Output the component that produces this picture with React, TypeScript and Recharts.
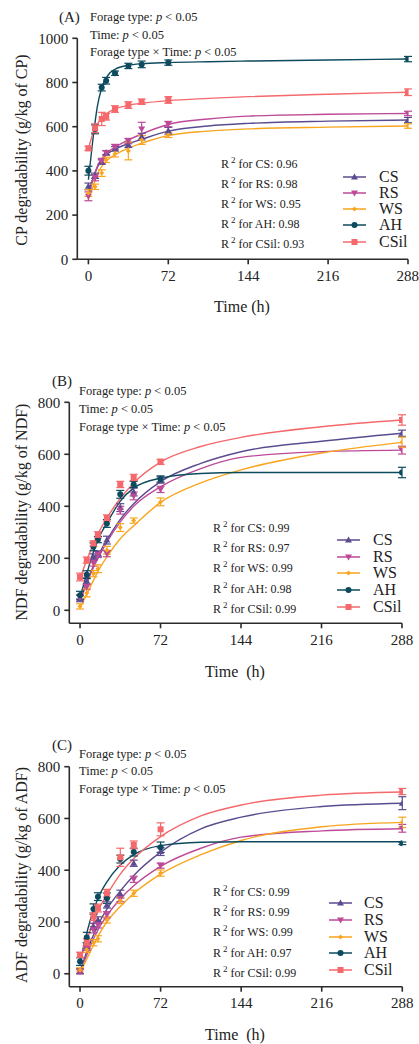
import React from "react";
import { ComposedChart, Line, Scatter, ErrorBar, XAxis, YAxis } from "recharts";

const seriesNames = ["CS", "RS", "WS", "AH", "CSil"];
const seriesColors = ["#5b4b8f", "#bd4a98", "#f9a51f", "#0c4a5d", "#f5686c"];
const seriesShapes = ["up", "down", "dot", "circle", "square"];

const obsTimes = [0, 6, 12, 16, 24, 36, 48, 72, 288];
const fitTimes = [0, 4, 8, 12, 18, 24, 36, 48, 72, 108, 144, 216, 288];
const xTicks = [0, 72, 144, 216, 288];

// (A) CP degradability, measured
const cpCS = [330, 378, 440, 482, 500, 518, 555, 582, 630];
const cpRS = [285, 370, 445, 482, 508, 535, 590, 612, 660];
const cpWS = [300, 328, 390, 450, 478, 490, 540, 563, 603];
const cpAH = [401, 588, 777, 808, 842, 875, 882, 890, 906];
const cpCSil = [502, 593, 635, 645, 680, 698, 713, 721, 756];
const cpCSErr = [15, 12, 10, 10, 10, 12, 15, 15, 12];
const cpRSErr = [20, 15, 12, 10, 12, 12, 30, 12, 10];
const cpWSErr = [15, 12, 15, 12, 15, 40, 20, 12, 10];
const cpAHErr = [20, 20, 15, 15, 10, 12, 15, 12, 12];
const cpCSilErr = [10, 20, 30, 15, 15, 15, 12, 15, 15];
// (A) fitted curves
const cpCSFit = [300, 365, 415, 450, 480, 498, 523, 543, 580, 603, 615, 625, 630];
const cpRSFit = [280, 360, 420, 455, 487, 507, 540, 567, 610, 635, 648, 656, 660];
const cpWSFit = [270, 328, 383, 420, 453, 473, 503, 525, 560, 580, 590, 598, 603];
const cpAHFit = [360, 540, 690, 775, 835, 860, 878, 885, 890, 894, 897, 902, 906];
const cpCSilFit = [500, 568, 612, 640, 665, 680, 697, 706, 718, 728, 736, 747, 756];
const cpR2 = ["0.96", "0.98", "0.95", "0.98", "0.93"];

// (B) NDF degradability
const ndfCS = [45, 113, 205, 218, 270, 395, 455, 501, 681];
const ndfRS = [50, 90, 182, 215, 218, 385, 440, 465, 616];
const ndfWS = [15, 67, 141, 160, 231, 318, 345, 417, 646];
const ndfAH = [58, 137, 244, 272, 334, 446, 484, 505, 530];
const ndfCSil = [128, 193, 257, 290, 355, 484, 511, 571, 732];
const ndfCSErr = [12, 12, 12, 10, 15, 15, 15, 12, 12];
const ndfRSErr = [10, 10, 12, 12, 12, 15, 15, 12, 15];
const ndfWSErr = [10, 15, 12, 15, 15, 15, 10, 15, 20];
const ndfAHErr = [15, 15, 15, 12, 15, 15, 12, 12, 20];
const ndfCSilErr = [15, 12, 10, 12, 12, 12, 12, 10, 20];
const ndfCSFit = [40, 85, 130, 170, 225, 270, 350, 410, 495, 565, 610, 650, 681];
const ndfRSFit = [40, 80, 125, 165, 215, 262, 340, 400, 475, 545, 588, 610, 616];
const ndfWSFit = [10, 45, 80, 115, 165, 205, 275, 325, 415, 490, 540, 605, 646];
const ndfAHFit = [50, 110, 170, 225, 290, 335, 420, 470, 508, 526, 530, 530, 530];
const ndfCSilFit = [120, 170, 215, 255, 310, 355, 430, 490, 570, 630, 665, 706, 732];
const ndfR2 = ["0.99", "0.97", "0.99", "0.98", "0.99"];

// (C) ADF degradability
const adfCS = [10, 108, 183, 208, 266, 308, 427, 472, 659];
const adfRS = [8, 100, 170, 189, 228, 290, 365, 418, 562];
const adfWS = [15, 93, 120, 135, 208, 283, 311, 389, 585];
const adfAH = [47, 140, 250, 298, 292, 443, 470, 489, 504];
const adfCSil = [73, 120, 221, 254, 311, 450, 498, 558, 704];
const adfCSErr = [10, 12, 12, 12, 12, 15, 12, 15, 25];
const adfRSErr = [8, 10, 12, 12, 12, 12, 12, 10, 15];
const adfWSErr = [8, 10, 12, 12, 12, 12, 12, 12, 20];
const adfAHErr = [15, 20, 20, 15, 20, 15, 15, 20, 5];
const adfCSilErr = [10, 15, 15, 15, 15, 35, 15, 25, 12];
const adfCSFit = [10, 60, 110, 150, 205, 250, 320, 380, 470, 560, 605, 646, 659];
const adfRSFit = [5, 50, 95, 135, 185, 225, 290, 340, 415, 485, 528, 552, 560];
const adfWSFit = [5, 40, 75, 110, 160, 200, 260, 310, 385, 460, 515, 568, 585];
const adfAHFit = [40, 120, 190, 245, 310, 355, 420, 460, 495, 508, 510, 510, 510];
const adfCSilFit = [50, 105, 155, 200, 260, 305, 385, 445, 530, 610, 652, 690, 702];
const adfR2 = ["0.99", "0.99", "0.99", "0.97", "0.99"];

const font = "'Liberation Serif', 'Times New Roman', serif";
const axisColor = "#2b2b2b";

const Mark = ({ cx, cy, kind, color }: any) => {
  if (cx == null || cy == null) return null;
  if (kind === "up")
    return <polygon points={`${cx},${cy - 3.5} ${cx - 3.5},${cy + 2.5} ${cx + 3.5},${cy + 2.5}`} fill={color} />;
  if (kind === "down")
    return <polygon points={`${cx},${cy + 3.5} ${cx - 3.5},${cy - 2.5} ${cx + 3.5},${cy - 2.5}`} fill={color} />;
  if (kind === "dot")
    return <polygon points={`${cx},${cy - 2.5} ${cx + 2.5},${cy} ${cx},${cy + 2.5} ${cx - 2.5},${cy}`} fill={color} />;
  if (kind === "circle") return <circle cx={cx} cy={cy} r={3} fill={color} />;
  return <rect x={cx - 3} y={cy - 3} width={6} height={6} fill={color} />;
};

type PanelProps = {
  top: number;
  height: number;
  margin: { top: number; right: number; bottom: number; left: number };
  xDomain: number[];
  yDomain: number[];
  yTicks: number[];
  obs: number[][];
  errs: number[][];
  fits: number[][];
};

const Panel = ({ top, height, margin, xDomain, yDomain, yTicks, obs, errs, fits }: PanelProps) => {
  const tickStyle = { fontFamily: font, fontSize: 15, fill: "#222" };
  return (
    <div style={{ position: "absolute", left: 0, top }}>
      <ComposedChart width={419} height={height} margin={margin}>
        <XAxis
          type="number"
          dataKey="t"
          domain={xDomain}
          ticks={xTicks}
          allowDataOverflow
          height={30}
          tickSize={5}
          tickMargin={6}
          tick={tickStyle}
          axisLine={{ stroke: axisColor, strokeWidth: 1.6 }}
          tickLine={{ stroke: axisColor, strokeWidth: 1.6 }}
        />
        <YAxis
          type="number"
          domain={yDomain}
          ticks={yTicks}
          allowDataOverflow
          width={45}
          tickSize={5}
          tickMargin={4}
          tick={tickStyle}
          axisLine={{ stroke: axisColor, strokeWidth: 1.6 }}
          tickLine={{ stroke: axisColor, strokeWidth: 1.6 }}
        />
        {seriesNames.map((name, i) => (
          <Line
            key={"f" + name}
            data={fitTimes.map((t, j) => ({ t, v: fits[i][j] }))}
            dataKey="v"
            type="monotone"
            stroke={seriesColors[i]}
            strokeWidth={1.4}
            dot={false}
            activeDot={false}
            isAnimationActive={false}
          />
        ))}
        {seriesNames.map((name, i) => (
          <Scatter
            key={"o" + name}
            data={obsTimes.map((t, j) => ({ t, v: obs[i][j], e: errs[i][j] }))}
            dataKey="v"
            fill={seriesColors[i]}
            shape={(p: any) => <Mark cx={p.cx} cy={p.cy} kind={seriesShapes[i]} color={seriesColors[i]} />}
            isAnimationActive={false}
          >
            <ErrorBar dataKey="e" direction="y" width={4} stroke={seriesColors[i]} strokeWidth={1.2} />
          </Scatter>
        ))}
      </ComposedChart>
    </div>
  );
};

const At = ({ x, y, size = 12, children, center = false }: any) => (
  <div
    style={{
      position: "absolute",
      left: x,
      top: y,
      transform: center ? "translate(-50%, -50%)" : "translateY(-50%)",
      fontFamily: font,
      fontSize: size,
      color: "#222",
      whiteSpace: "nowrap",
      lineHeight: 1,
    }}
  >
    {children}
  </div>
);

const PTexts = ({ letter, lx, ly, x, ys }: any) => (
  <>
    <At x={lx} y={ly} size={15}>({letter})</At>
    <At x={x} y={ys[0]} size={12.5}>Forage type: <i>p</i> &lt; 0.05</At>
    <At x={x} y={ys[1]} size={12.5}>Time: <i>p</i> &lt; 0.05</At>
    <At x={x} y={ys[2]} size={12.5}>Forage type × Time: <i>p</i> &lt; 0.05</At>
  </>
);

const R2Texts = ({ x, y0, step, values }: any) => (
  <>
    {seriesNames.map((name, i) => (
      <At key={name} x={x} y={y0 + i * step} size={12}>
        R<sup style={{ fontSize: 9, marginLeft: 2 }}>2</sup> for {name}: {values[i]}
      </At>
    ))}
  </>
);

const LegendBox = ({ x, y0, step }: any) => (
  <>
    {seriesNames.map((name, i) => (
      <div key={name} style={{ position: "absolute", left: x, top: y0 + i * step - 6 }}>
        <svg width={24} height={12} style={{ position: "absolute", left: 0, top: 0 }}>
          <line x1={0} y1={6} x2={23} y2={6} stroke={seriesColors[i]} strokeWidth={1.5} />
          <Mark cx={11.5} cy={6} kind={seriesShapes[i]} color={seriesColors[i]} />
        </svg>
      </div>
    ))}
  </>
);

const LegendLabels = ({ x, y0, step }: any) => (
  <>
    {seriesNames.map((name, i) => (
      <At key={name} x={x} y={y0 + i * step} size={16}>
        {name}
      </At>
    ))}
  </>
);

const YTitle = ({ x, y, text }: any) => (
  <div
    style={{
      position: "absolute",
      left: x,
      top: y,
      transform: "translate(-50%, -50%) rotate(-90deg)",
      fontFamily: font,
      fontSize: 16,
      color: "#222",
      whiteSpace: "nowrap",
      lineHeight: 1,
    }}
  >
    {text}
  </div>
);

export default function App() {
  return (
    <div style={{ position: "absolute", left: 0, top: 0, width: 419, height: 1044, background: "#fff", overflow: "hidden" }}>
      <Panel
        top={0}
        height={340}
        margin={{ top: 38.3, right: 11, bottom: 50.7, left: 32.3 }}
        xDomain={[-10, 288]}
        yDomain={[0, 1000]}
        yTicks={[0, 200, 400, 600, 800, 1000]}
        obs={[cpCS, cpRS, cpWS, cpAH, cpCSil]}
        errs={[cpCSErr, cpRSErr, cpWSErr, cpAHErr, cpCSilErr]}
        fits={[cpCSFit, cpRSFit, cpWSFit, cpAHFit, cpCSilFit]}
      />
      <Panel
        top={345}
        height={345}
        margin={{ top: 57.3, right: 17, bottom: 36.7, left: 24.3 }}
        xDomain={[-9.6, 288]}
        yDomain={[-50, 800]}
        yTicks={[0, 200, 400, 600, 800]}
        obs={[ndfCS, ndfRS, ndfWS, ndfAH, ndfCSil]}
        errs={[ndfCSErr, ndfRSErr, ndfWSErr, ndfAHErr, ndfCSilErr]}
        fits={[ndfCSFit, ndfRSFit, ndfWSFit, ndfAHFit, ndfCSilFit]}
      />
      <Panel
        top={700}
        height={344}
        margin={{ top: 66.7, right: 16.7, bottom: 27.3, left: 24.3 }}
        xDomain={[-9.6, 288]}
        yDomain={[-50, 800]}
        yTicks={[0, 200, 400, 600, 800]}
        obs={[adfCS, adfRS, adfWS, adfAH, adfCSil]}
        errs={[adfCSErr, adfRSErr, adfWSErr, adfAHErr, adfCSilErr]}
        fits={[adfCSFit, adfRSFit, adfWSFit, adfAHFit, adfCSilFit]}
      />

      <PTexts letter="A" lx={59} ly={17} x={90} ys={[17, 34.5, 52]} />
      <PTexts letter="B" lx={52} ly={381} x={79} ys={[391, 409, 427]} />
      <PTexts letter="C" lx={52} ly={745} x={79} ys={[753.5, 771, 789]} />

      <R2Texts x={221} y0={163} step={20.1} values={cpR2} />
      <R2Texts x={213} y0={526.7} step={20.3} values={ndfR2} />
      <R2Texts x={213} y0={890.7} step={20.3} values={adfR2} />

      <LegendBox x={343} y0={176.5} step={16.3} />
      <LegendLabels x={379} y0={176.5} step={16.3} />
      <LegendBox x={337} y0={540} step={16.7} />
      <LegendLabels x={373} y0={540} step={16.7} />
      <LegendBox x={329} y0={903.3} step={16.7} />
      <LegendLabels x={364} y0={903.3} step={16.7} />

      <YTitle x={22} y={150} text="CP degradability (g/kg of CP)" />
      <YTitle x={22} y={512} text="NDF degradability (g/kg of NDF)" />
      <YTitle x={22} y={875} text="ADF degradability (g/kg of ADF)" />

      <At x={242} y={306.5} size={16} center>Time (h)</At>
      <At x={235} y={672} size={16} center>Time&nbsp; (h)</At>
      <At x={235} y={1035} size={16} center>Time&nbsp; (h)</At>
    </div>
  );
}
